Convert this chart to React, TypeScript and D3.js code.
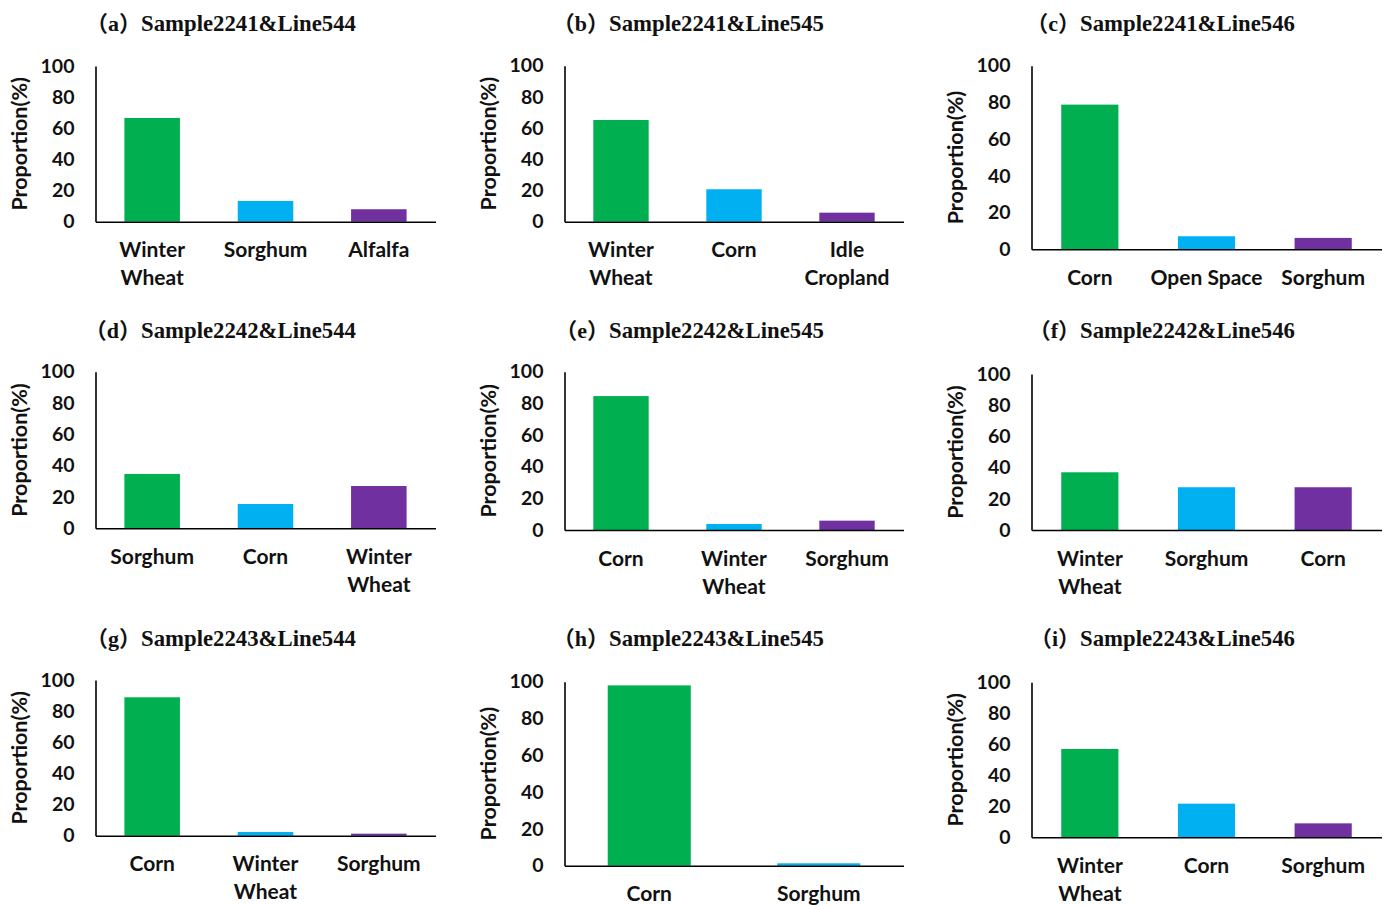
import React, { useEffect, useRef } from "react";
import * as d3 from "d3";

// panel tags and titles
const panelTags = ["a", "b", "c", "d", "e", "f", "g", "h", "i"];
const panelTitles = [
  "Sample2241&Line544",
  "Sample2241&Line545",
  "Sample2241&Line546",
  "Sample2242&Line544",
  "Sample2242&Line545",
  "Sample2242&Line546",
  "Sample2243&Line544",
  "Sample2243&Line545",
  "Sample2243&Line546",
];

// categories of every panel
const panelCategories = [
  ["Winter Wheat", "Sorghum", "Alfalfa"],
  ["Winter Wheat", "Corn", "Idle Cropland"],
  ["Corn", "Open Space", "Sorghum"],
  ["Sorghum", "Corn", "Winter Wheat"],
  ["Corn", "Winter Wheat", "Sorghum"],
  ["Winter Wheat", "Sorghum", "Corn"],
  ["Corn", "Winter Wheat", "Sorghum"],
  ["Corn", "Sorghum"],
  ["Winter Wheat", "Corn", "Sorghum"],
];

// proportion (%) values, same order as the categories
const panelValues = [
  [66.6, 13.3, 8.0],
  [65.2, 20.8, 5.8],
  [78.8, 7.1, 6.2],
  [34.7, 15.5, 27.0],
  [84.6, 3.8, 5.9],
  [37.0, 27.4, 27.4],
  [88.9, 2.4, 1.3],
  [98.0, 1.3],
  [57.0, 21.7, 9.0],
];

const yTicks = [0, 20, 40, 60, 80, 100];
const yLabel = "Proportion(%)";
const barColors = ["#00B050", "#00B0F0", "#7030A0"];

const W = 1387;
const H = 905;

// layout: plot frame of each column and each panel's vertical extent
const colLeft = [95.5, 564.5, 1031.5];
const colRight = [435.5, 903.5, 1381.5];
const plotY = [
  [66, 221.7],
  [65.7, 221.7],
  [65.7, 249.3],
  [371.7, 528.3],
  [371.7, 530],
  [374, 530],
  [680, 835.7],
  [681.7, 865.7],
  [682.3, 837.3],
];
const titleBase = [31, 338, 646];
const titleX = [141, 609, 1080];

const sansFont = "Lato, 'Open Sans', sans-serif";
const textColor = "#111";

const App = () => {
  const svgRef = useRef<SVGSVGElement>(null);

  useEffect(() => {
    const svg = d3.select(svgRef.current);
    svg.selectAll("*").remove();

    panelCategories.forEach((cats, i) => {
      const col = i % 3;
      const row = Math.floor(i / 3);
      const [top, bottom] = plotY[i];
      const vals = panelValues[i];

      const x = d3
        .scaleBand()
        .domain(cats)
        .range([colLeft[col], colRight[col]])
        .paddingInner(0.51)
        .paddingOuter(0.255);

      const y = d3.scaleLinear().domain([0, 100]).range([bottom, top]);

      const g = svg.append("g");

      // title
      g.append("text")
        .attr("x", titleX[col])
        .attr("y", titleBase[row])
        .attr("text-anchor", "end")
        .attr("font-family", "'Liberation Serif', 'Noto Sans CJK SC', serif")
        .attr("font-weight", "bold")
        .attr("font-size", 22)
        .attr("fill", textColor)
        .text(`（${panelTags[i]}）`);

      g.append("text")
        .attr("x", titleX[col])
        .attr("y", titleBase[row])
        .attr("font-family", "'Liberation Serif', serif")
        .attr("font-weight", "bold")
        .attr("font-size", 23)
        .attr("textLength", 215)
        .attr("lengthAdjust", "spacingAndGlyphs")
        .attr("fill", textColor)
        .text(panelTitles[i]);

      // bars
      g.selectAll(".bar")
        .data(vals)
        .enter()
        .append("rect")
        .attr("class", "bar")
        .attr("x", (d, j) => x(cats[j]) as number)
        .attr("y", (d) => y(d))
        .attr("width", x.bandwidth())
        .attr("height", (d) => bottom - y(d))
        .attr("fill", (d, j) => barColors[j]);

      // y axis
      const yAxis = g
        .append("g")
        .attr("transform", `translate(${colLeft[col]},0)`)
        .call(d3.axisLeft(y).tickValues(yTicks).tickSize(0).tickPadding(21));
      yAxis.select(".domain").attr("stroke", "#000").attr("stroke-width", 1.6);
      yAxis
        .selectAll("text")
        .attr("font-family", sansFont)
        .attr("font-weight", 700)
        .attr("font-size", 19.5)
        .attr("fill", textColor);

      // x axis
      const xAxis = g
        .append("g")
        .attr("transform", `translate(0,${bottom})`)
        .call(d3.axisBottom(x).tickSize(0).tickPadding(0));
      xAxis.select(".domain").attr("stroke", "#000").attr("stroke-width", 1.6);
      xAxis
        .selectAll<SVGTextElement, string>("text")
        .attr("font-family", sansFont)
        .attr("font-weight", 700)
        .attr("font-size", 21)
        .attr("fill", textColor)
        .each(function (d) {
          const t = d3.select(this);
          t.attr("dy", null).attr("y", 35.5);
          if ((this as SVGTextElement).getComputedTextLength() > x.bandwidth() * 2.05 && d.includes(" ")) {
            const words = d.split(" ");
            t.text(null);
            words.forEach((w, k) => {
              t.append("tspan").attr("x", 0).attr("y", 35.5 + k * 28).text(w);
            });
          }
        });

      // y label
      g.append("text")
        .attr("transform", `translate(${colLeft[col] - 74},${(top + bottom) / 2}) rotate(-90)`)
        .attr("text-anchor", "middle")
        .attr("dominant-baseline", "middle")
        .attr("font-family", sansFont)
        .attr("font-weight", 700)
        .attr("font-size", 21.5)
        .attr("fill", textColor)
        .text(yLabel);
    });
  }, []);

  return (
    <svg
      ref={svgRef}
      width={W}
      height={H}
      style={{ position: "absolute", left: 0, top: 0, background: "#fff" }}
    />
  );
};

export default App;
